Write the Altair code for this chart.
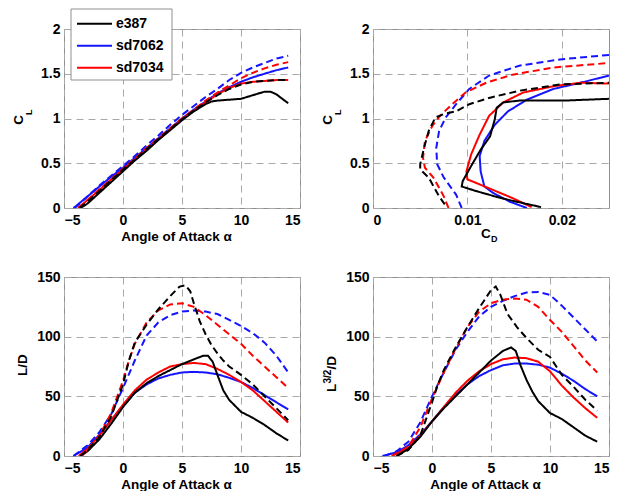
import altair as alt
import pandas as pd

FONT = "Liberation Sans"
names = ["e387", "sd7062", "sd7034"]
colors = ["#000000", "#1414ff", "#ff0000"]
styles = ["solid", "dashed"]

# ---------- Panel 1: C_L vs angle of attack ----------
cl_e387_s_a = [-3.6, -3, -2, -1, 0, 1, 2, 3, 4, 5, 6, 7, 7.5, 8, 9, 10, 11, 12, 12.5, 13, 14]
cl_e387_s = [0, 0.05, 0.17, 0.29, 0.41, 0.53, 0.64, 0.76, 0.87, 0.98, 1.08, 1.16, 1.19, 1.20, 1.21, 1.22, 1.26, 1.30, 1.30, 1.27, 1.17]
cl_e387_d_a = [-3.7, -3, -2, -1, 0, 1, 2, 3, 4, 5, 6, 7, 8, 9, 10, 11, 12, 13, 14]
cl_e387_d = [0, 0.07, 0.19, 0.31, 0.43, 0.54, 0.66, 0.77, 0.88, 0.99, 1.09, 1.18, 1.26, 1.33, 1.38, 1.41, 1.42, 1.43, 1.43]
cl_7034_s_a = [-3.8, -3, -2, -1, 0, 1, 2, 3, 4, 5, 6, 7, 8, 9, 10, 11, 12, 13, 14]
cl_7034_s = [0, 0.09, 0.20, 0.32, 0.43, 0.54, 0.65, 0.77, 0.88, 0.99, 1.09, 1.18, 1.27, 1.34, 1.39, 1.41, 1.42, 1.43, 1.43]
cl_7034_d_a = [-3.8, -3, -2, -1, 0, 1, 2, 3, 4, 5, 6, 7, 8, 9, 10, 11, 12, 13, 14]
cl_7034_d = [0, 0.09, 0.21, 0.32, 0.44, 0.55, 0.67, 0.78, 0.89, 1.00, 1.10, 1.20, 1.29, 1.37, 1.45, 1.51, 1.56, 1.60, 1.63]
cl_7062_s_a = [-4.2, -4, -3, -2, -1, 0, 1, 2, 3, 4, 5, 6, 7, 8, 9, 10, 11, 12, 13, 14]
cl_7062_s = [0, 0.02, 0.13, 0.24, 0.35, 0.45, 0.56, 0.67, 0.78, 0.89, 1.00, 1.10, 1.19, 1.28, 1.35, 1.41, 1.46, 1.50, 1.54, 1.57]
cl_7062_d_a = [-4.1, -4, -3, -2, -1, 0, 1, 2, 3, 4, 5, 6, 7, 8, 9, 10, 11, 12, 13, 14]
cl_7062_d = [0, 0.01, 0.13, 0.25, 0.36, 0.47, 0.58, 0.70, 0.81, 0.93, 1.04, 1.14, 1.24, 1.33, 1.43, 1.51, 1.57, 1.62, 1.67, 1.70]

# ---------- Panel 2: drag polar (C_D, C_L) ----------
pol_e387_s_cd = [0.0178, 0.0148, 0.0129, 0.0109, 0.0094, 0.0095, 0.0104, 0.0114, 0.0124, 0.0129, 0.0131, 0.0138, 0.0155, 0.0202, 0.0250]
pol_e387_s_cl = [0.01, 0.08, 0.13, 0.19, 0.24, 0.30, 0.47, 0.65, 0.80, 0.99, 1.12, 1.18, 1.20, 1.20, 1.22]
pol_e387_d_cd = [0.0076, 0.0070, 0.0059, 0.0050, 0.0050, 0.0054, 0.0059, 0.0066, 0.0075, 0.0088, 0.0102, 0.0123, 0.0155, 0.0198, 0.0250]
pol_e387_d_cl = [0.04, 0.13, 0.34, 0.43, 0.49, 0.67, 0.86, 1.01, 1.05, 1.08, 1.16, 1.23, 1.31, 1.38, 1.40]
pol_7034_s_cd = [0.0168, 0.0148, 0.0123, 0.0100, 0.0099, 0.0104, 0.0113, 0.0123, 0.0138, 0.0159, 0.0191, 0.0220, 0.0250]
pol_7034_s_cl = [0.01, 0.11, 0.22, 0.32, 0.41, 0.60, 0.82, 1.03, 1.18, 1.29, 1.36, 1.40, 1.39]
pol_7034_d_cd = [0.0080, 0.0075, 0.0064, 0.0055, 0.0053, 0.0055, 0.0063, 0.0071, 0.0084, 0.0098, 0.0120, 0.0148, 0.0191, 0.0250]
pol_7034_d_cl = [0.00, 0.13, 0.34, 0.45, 0.56, 0.75, 0.92, 1.03, 1.16, 1.29, 1.40, 1.49, 1.57, 1.62]
pol_7062_s_cd = [0.0163, 0.0145, 0.0127, 0.0118, 0.0114, 0.0113, 0.0118, 0.0129, 0.0143, 0.0163, 0.0191, 0.0220, 0.0250]
pol_7062_s_cl = [0.00, 0.07, 0.17, 0.24, 0.41, 0.58, 0.75, 0.93, 1.08, 1.21, 1.33, 1.40, 1.48]
pol_7062_d_cd = [0.0094, 0.0088, 0.0075, 0.0068, 0.0067, 0.0070, 0.0077, 0.0088, 0.0102, 0.0123, 0.0155, 0.0198, 0.0250]
pol_7062_d_cl = [0.00, 0.15, 0.34, 0.49, 0.67, 0.86, 1.01, 1.16, 1.33, 1.48, 1.59, 1.66, 1.71]

# ---------- Panel 3: L/D vs angle of attack ----------
ld_e387_s_a = [-3.6, -3, -2, -1, 0, 1, 2, 3, 4, 5, 6, 6.8, 7.2, 7.6, 8, 8.5, 9, 10, 11, 12, 13, 14]
ld_e387_s = [0, 4, 14, 27, 41, 53, 61, 67, 72, 77, 81, 84, 84, 79, 68, 55, 47, 37, 32, 26, 19, 13]
ld_e387_d_a = [-3.6, -3, -2, -1, 0, 0.5, 1, 2, 3, 4, 4.8, 5.3, 5.7, 6, 6.5, 7, 7.5, 8, 8.5, 9, 10, 11, 12, 13, 14]
ld_e387_d = [0, 5, 16, 33, 60, 80, 95, 110, 123, 134, 142, 143, 138, 128, 113, 102, 93, 86, 80, 75, 68, 60, 50, 40, 30]
ld_7034_s_a = [-3.75, -3, -2, -1, 0, 1, 2, 3, 4, 5, 6, 7, 8, 9, 10, 11, 12, 13, 14]
ld_7034_s = [0, 6, 17, 30, 43, 55, 64, 70, 75, 77, 78, 77, 73, 68, 62, 55, 46, 37, 28]
ld_7034_d_a = [-3.5, -3, -2, -1, 0, 0.5, 1, 2, 3, 4, 5, 6, 7, 8, 9, 10, 11, 12, 13, 14]
ld_7034_d = [0, 5, 17, 36, 63, 80, 94, 112, 122, 127, 128, 125, 118, 110, 102, 94, 84, 75, 66, 57]
ld_7062_s_a = [-4.2, -3, -2, -1, 0, 1, 2, 3, 4, 5, 6, 7, 8, 9, 10, 11, 12, 13, 14]
ld_7062_s = [0, 7, 18, 30, 42, 53, 60, 65, 68, 70, 70.5, 70, 68.5, 65.5, 62, 57, 51, 45, 39]
ld_7062_d_a = [-4.2, -3, -2, -1, 0, 1, 2, 3, 4, 5, 6, 7, 8, 9, 10, 11, 12, 13, 14]
ld_7062_d = [0, 9, 20, 35, 57, 80, 101, 112, 118, 121, 122, 121, 119, 114, 109, 103, 95, 84, 70]

# ---------- Panel 4: L^{3/2}/D vs angle of attack ----------
pw_e387_s_a = [-3, -2, -1, 0, 1, 2, 3, 4, 5, 6, 6.7, 7.1, 7.5, 8, 8.5, 9, 10, 11, 12, 13, 14]
pw_e387_s = [0, 6, 16, 29, 40, 50, 60, 70, 80, 88, 91, 88, 76, 64, 54, 46, 36, 31, 24, 17, 12]
pw_e387_d_a = [-3, -2, -1, 0, 0.5, 1, 2, 3, 4, 5, 5.4, 5.8, 6.4, 7.2, 8, 9, 10, 11, 12, 13, 14]
pw_e387_d = [0, 5, 17, 45, 60, 72, 91, 108, 124, 139, 142, 135, 119, 108, 99, 89, 83, 68, 58, 47, 38]
pw_7034_s_a = [-3.4, -2, -1, 0, 1, 2, 3, 4, 5, 6, 7, 8, 9, 10, 11, 12, 13, 14]
pw_7034_s = [0, 7, 17, 29, 41, 53, 63, 71, 77, 81, 82.5, 82, 79, 71, 59, 49, 40, 32]
pw_7034_d_a = [-3.4, -2, -1, 0, 1, 2, 3, 4, 5, 6, 7, 8, 9, 10, 11, 12, 13, 14]
pw_7034_d = [0, 8, 24, 48, 70, 90, 108, 121, 128, 131, 132, 131, 125, 114, 104, 92, 80, 70]
pw_7062_s_a = [-4.2, -3, -2, -1, 0, 1, 2, 3, 4, 5, 6, 7, 8, 9, 10, 11, 12, 13, 14]
pw_7062_s = [0, 3, 9, 18, 29, 41, 51, 60, 67, 72, 76, 77.5, 77.5, 76.5, 74, 69, 63, 56, 50]
pw_7062_d_a = [-4, -3, -2, -1, 0, 1, 2, 3, 4, 5, 6, 7, 8, 9, 10, 11, 12, 13, 14]
pw_7062_d = [0, 4, 12, 28, 50, 70, 89, 104, 117, 125, 130, 134, 137, 137.5, 135, 126, 116, 106, 96]


def build(curves):
    rows = []
    for name, style, xs, ys in curves:
        for i, (xv, yv) in enumerate(zip(xs, ys)):
            rows.append({"airfoil": name, "re": style, "x": xv, "y": yv, "i": i})
    return pd.DataFrame(rows)


df1 = build([
    ("sd7062", "solid", cl_7062_s_a, cl_7062_s), ("sd7034", "solid", cl_7034_s_a, cl_7034_s),
    ("e387", "solid", cl_e387_s_a, cl_e387_s), ("sd7062", "dashed", cl_7062_d_a, cl_7062_d),
    ("sd7034", "dashed", cl_7034_d_a, cl_7034_d), ("e387", "dashed", cl_e387_d_a, cl_e387_d)])
df2 = build([
    ("sd7062", "solid", pol_7062_s_cd, pol_7062_s_cl), ("sd7034", "solid", pol_7034_s_cd, pol_7034_s_cl),
    ("e387", "solid", pol_e387_s_cd, pol_e387_s_cl), ("sd7062", "dashed", pol_7062_d_cd, pol_7062_d_cl),
    ("sd7034", "dashed", pol_7034_d_cd, pol_7034_d_cl), ("e387", "dashed", pol_e387_d_cd, pol_e387_d_cl)])
df3 = build([
    ("sd7062", "solid", ld_7062_s_a, ld_7062_s), ("sd7034", "solid", ld_7034_s_a, ld_7034_s),
    ("e387", "solid", ld_e387_s_a, ld_e387_s), ("sd7062", "dashed", ld_7062_d_a, ld_7062_d),
    ("sd7034", "dashed", ld_7034_d_a, ld_7034_d), ("e387", "dashed", ld_e387_d_a, ld_e387_d)])
df4 = build([
    ("sd7062", "solid", pw_7062_s_a, pw_7062_s), ("sd7034", "solid", pw_7034_s_a, pw_7034_s),
    ("e387", "solid", pw_e387_s_a, pw_e387_s), ("sd7062", "dashed", pw_7062_d_a, pw_7062_d),
    ("sd7034", "dashed", pw_7034_d_a, pw_7034_d), ("e387", "dashed", pw_e387_d_a, pw_e387_d)])

W, H = 236, 179
one = pd.DataFrame({"k": [0]})

alpha_scale = alt.Scale(domain=[-5, 15], nice=False, zero=False)
alpha_axis = alt.Axis(values=[-5, 0, 5, 10, 15], format="d", title="Angle of Attack α",
                      titleX=112, titleY=21, titleBaseline="top")


def lines(df, xscale, xaxis, yscale, yaxis):
    return alt.Chart(df).mark_line(strokeWidth=2, clip=True).encode(
        x=alt.X("x:Q", scale=xscale, axis=xaxis),
        y=alt.Y("y:Q", scale=yscale, axis=yaxis),
        color=alt.Color("airfoil:N", scale=alt.Scale(domain=names, range=colors), legend=None),
        strokeDash=alt.StrokeDash("re:N", scale=alt.Scale(domain=styles, range=[[1, 0], [7, 4]]), legend=None),
        order="i:Q",
    )


def txt(s, x, y, size, angle=0, align="left", baseline="alphabetic"):
    kw = dict(font=FONT, fontWeight="bold", fontSize=size, align=align, baseline=baseline, color="black")
    if angle:
        kw["angle"] = angle
    return alt.Chart(one).mark_text(**kw).encode(x=alt.value(x), y=alt.value(y), text=alt.value(s))


cl_scale = alt.Scale(domain=[0, 2], nice=False)
cl_axis = alt.Axis(values=[0, 0.5, 1, 1.5, 2], format=".1~f", title=None)
ld_scale = alt.Scale(domain=[0, 150], nice=False)
ld_axis = alt.Axis(values=[0, 50, 100, 150], format="d", title=None)

# legend (drawn inside the top-left panel)
legend_layers = [alt.Chart(one).mark_rect(fill="white", stroke="#8f8f8f", strokeWidth=1).encode(
    x=alt.value(7), x2=alt.value(108), y=alt.value(-20), y2=alt.value(51))]
for k, (n, c) in enumerate(zip(names, colors)):
    yy = -5.3 + 22 * k
    legend_layers.append(alt.Chart(one).mark_rule(color=c, strokeWidth=2).encode(
        x=alt.value(13), x2=alt.value(48), y=alt.value(yy)))
    legend_layers.append(txt(n, 52, yy + 0.5, 14, baseline="middle"))

p1 = alt.layer(
    lines(df1, alpha_scale, alpha_axis, cl_scale, cl_axis),
    *legend_layers,
    txt("C", -41, 86, 13.5, angle=270, align="right"),
    txt("L", -32, 86, 9, angle=270, align="left"),
).properties(width=W, height=H)

p2 = alt.layer(
    lines(df2, alt.Scale(domain=[0, 0.025], nice=False),
          alt.Axis(values=[0, 0.01, 0.02], format=".2~f", title=None), cl_scale, cl_axis),
    txt("C", -41, 86, 13.5, angle=270, align="right"),
    txt("L", -32, 86, 9, angle=270, align="left"),
    txt("C", 108, 209, 13.5),
    txt("D", 118, 213, 9),
).properties(width=W, height=H)

p3 = alt.layer(
    lines(df3, alpha_scale, alpha_axis, ld_scale, ld_axis),
    txt("L/D", -37, 88, 13.5, angle=270, align="center"),
).properties(width=W, height=H)

p4 = alt.layer(
    lines(df4, alpha_scale, alpha_axis, ld_scale, ld_axis),
    txt("L", -37, 115, 13.5, angle=270, align="left"),
    txt("3/2", -42, 106.5, 10, angle=270, align="left"),
    txt("/D", -37, 92.5, 13.5, angle=270, align="left"),
).properties(width=W, height=H)

chart = alt.concat(
    p1, p2, p3, p4, columns=2, spacing={"row": 69, "column": 73}, bounds="flush"
).properties(
    padding={"left": 3, "top": 0, "right": 5, "bottom": 0}
).configure_view(
    stroke="#8f8f8f", strokeWidth=1
).configure_axis(
    labelFont=FONT, labelFontSize=14, labelFontWeight="bold", labelColor="black",
    titleFont=FONT, titleFontSize=13.5, titleFontWeight="bold", titleColor="black",
    grid=True, gridColor="#a8a8a8", gridDash=[7, 5], gridWidth=1,
    domain=False, ticks=False, tickSize=0,
).configure_axisX(labelPadding=5).configure_axisY(labelPadding=4)

chart.save("out.html", embed_options={"renderer": "svg", "actions": False})
